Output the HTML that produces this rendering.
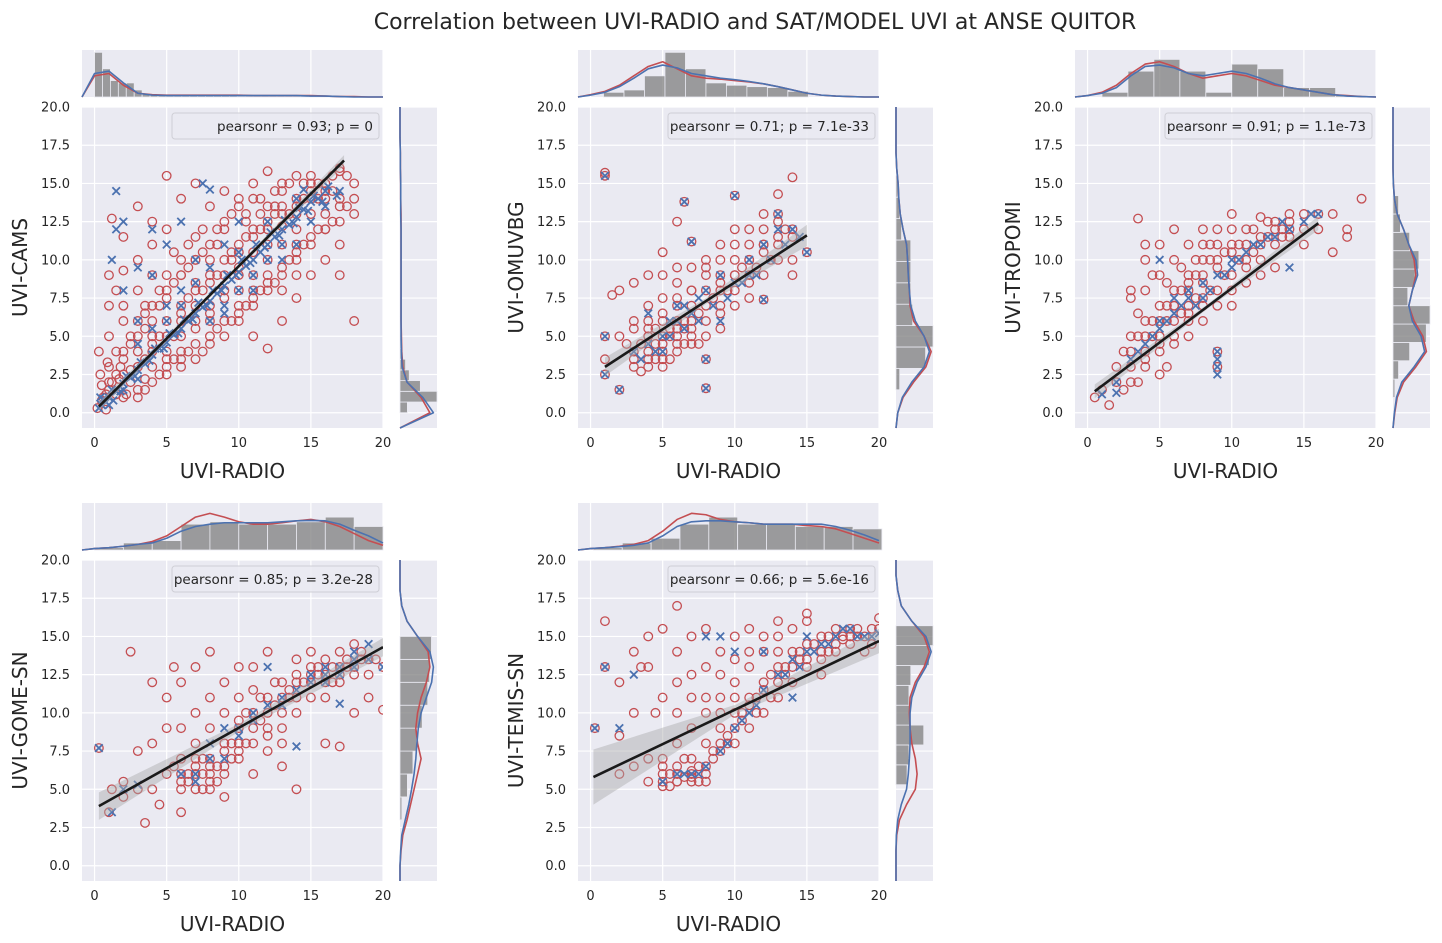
<!DOCTYPE html>
<html><head><meta charset="utf-8">
<style>
body{margin:0;background:#fff;}
svg{display:block;font-family:"DejaVu Sans","Liberation Sans",sans-serif;}
</style></head>
<body>
<svg id="c" width="1442" height="943" viewBox="0 0 1442 943">
<text x="755" y="29" text-anchor="middle" font-size="22" fill="#262626">Correlation between UVI-RADIO and SAT/MODEL UVI at ANSE QUITOR</text>
</svg>
<script>
// ---------- data ----------
const yLabels=["UVI-CAMS","UVI-OMUVBG","UVI-TROPOMI","UVI-GOME-SN","UVI-TEMIS-SN"];
const legendTexts=["pearsonr = 0.93; p = 0","pearsonr = 0.71; p = 7.1e-33","pearsonr = 0.91; p = 1.1e-73","pearsonr = 0.85; p = 3.2e-28","pearsonr = 0.66; p = 5.6e-16"];
const xTicks=[0,5,10,15,20];
const yTicks=[0,2.5,5,7.5,10,12.5,15,17.5,20];
// red circles [x,y,...]
const red1=[0.2,0.3,0.5,0.8,0.8,1.2,1,1.5,1.2,2,0.4,2.5,0.6,1,1.5,1.2,2,2.5,1.8,3,2.5,2,0.3,4,1,5,2,6,1.5,8,1,9,3,10,2,11.5,1.2,12.7,4,12.5,3,13.5,5,15.5,7,15,6,14,4,11,5,12,5,9,6,10,6,7,7,8,8,10,8,7,9,9,9,12,10,11,10,8,11,12,11,9,12,12,12,10,13,13,13,11,14,14,14,12,15,15,15,13,16,15,17,15.8,16,13,17,12.5,18,14,10,14,11,15,12,15.8,8,13.5,7,11.5,3,4,4,5,4,3,5,4,5,2.5,6,5,7,4.5,8,5,6,3,3,6,4,7,3,8,2,9.3,9,6,10,6,11,5,12,4.2,13,6,14,7.5,15,9,16,10,9,14.5,13,15,14,10,17,9,18,6,3,1.5,7,7,8,8.5,10,10.5,11,10.5,12,11,13,12.2,14,13,15,14,2,4,3,3,4,4.5,5,6,6,6,7,6,8,6,9,7.5,10,9,11,8,12,8.5,13,9.5,14,11,15,11.5,16,12,17,13.5,18,15,3.5,7,4.5,8,5.5,10.5,6.5,11,7.5,12,8.5,11,9.5,10.5,10.5,12.5,11.5,13,12.5,13.5,1,3,1.5,4,2.5,5,3.5,5.5,5,3.5,6,4,7,5.5,8,6.5,9,8,10,7,11,7,12,9,13,8,14,9,4,9,5,8,6,9,7,10,2,7,1,7,0.5,1.8,0.8,0.2,2.2,1.2,1.7,2.2,0.9,3.3,3.5,2.2];
const red1b=[1,2,1.5,2.5,2,3.5,2.5,4.5,3,5,3.5,6.5,4,6,4.5,7,5,7.5,5.5,8.5,6,9,6.5,9.5,7,10,7.5,10.5,8,11,8.5,12,9,12.5,9.5,13,10,13.5,10.5,13,11,14,11.5,14,12,13.5,12.5,14.5,13,14.5,13.5,15,14,15.5,14.5,15,15,15.5,15.5,15,16,14,16.5,14.5,17,14,17.5,13.5,18,13,3,1,3.5,1.5,4,2,4.5,2.5,5,3,5.5,3.5,6,3.5,6.5,4,7,3.5,7.5,4,8,4.5,8.5,5.5,9,5,9.5,6,10,6.5,10.5,7,11,7.5,11.5,8,12,8,12.5,8.5,13,9,13.5,10,14,10.5,14.5,11,15,11,15.5,12,16,12,16.5,12.5,17,11,2,1,2.5,2.8,3.5,3.5,4,4,4.5,5,5,5,5.5,5,6,6.5,6.5,7.5,7,8.5,7.5,8,8,9,8.5,9,9,10,9.5,10,10,9.5,10.5,11.5,11,11.5,11.5,12,12,12.5,12.5,13,13,13.5,13.5,13,14,13.5,14.5,14,15,14.5,15.5,14,16,14.5,16.5,15.5,17,16,17.5,15.5];
const blue1=[0.3,0.3,0.8,0.7,1.5,1.4,2,1.9,3,2.8,4,3.8,5,4.6,6,5.5,7,6.5,8,7.3,9,8.3,10,9.2,11,10,12,11,13,12,14,12.8,15,13.8,16,14.5,17,14.5,1.5,14.5,1.5,12,2,12.5,7.5,15,8,14.6,14.5,14.6,4,9,3,6,6,8,5,6,10,8,12,10,14,11,9,7,11,9,0.5,0.5,1,1,2.5,2.3,3.5,3.2,4.5,4.2,5.5,5.1,6.5,6,7.5,6.9,8.5,7.8,9.5,8.7,10.5,9.6,11.5,10.5,12.5,11.5,13.5,12.3,14.5,13.3,15.5,14,1,0.5,2,1.5,3,2.2,0.4,1,1.3,0.8,4,12,5,11,6,12.5,3,9.5,2,8,8,9.5,9,11,10,12.5,7,10,1.2,10,13,11,15,12.5,16,13.5];
const blue1b=[0.6,0.9,1.2,1.5,1.8,1.4,2.2,2.4,2.8,2.4,3.2,3.3,3.8,3.4,4.2,4.2,4.8,4.2,5.2,5.2,5.8,5.2,6.2,6.1,6.8,6.1,7.2,7.2,7.8,7,8.2,8,8.8,8,9.2,9,9.8,9,10.2,10,10.8,9.8,11.2,11,11.8,10.8,12.2,11.8,12.8,11.6,13.2,12.6,13.8,12.4,14.2,13.4,14.8,13.2,15.2,14.2,15.8,13.8,16.2,14.8,16.8,14.2,5,7,6,7,7,8.5,8,6,9,6.5,10,10.5,11,8,12,12.5,13,10,14,14,3,4.5,4,5.5];
const red2=[1,15.5,1,15.7,1,5,1,3.5,1,2.5,2,1.5,2,5,2,8,1.5,7.7,3,4,3,6,3,8.5,4,3,4,5,4,7,4,9,5,3,5,5,5,6,5,9,5,10.5,6,4,6,6,6,7,6,8.5,6,12.5,6.5,13.8,7,5,7,7,7,11.2,7,9.5,8,3.5,8,1.6,8,6,8,8,8,10,9,7,9,9,9,11,9,5.5,10,14.2,10,8,10,10,10,12,11,9,11,11,11,7.5,12,9,12,10.5,12,7.4,12,12,13,10,13,14.3,13,11.5,13,12.5,14,12,14,15.4,14,10,14,9,15,10.5,3,5.5,4,4,6,5,7,6,5,4.5,3.5,2.7,4.5,5.5,5.5,5.5,6.5,5.5,5,7.5,6,9.5,7,8,8,9,9,8,10,9,11,10,12,11,13,13,4,6,4.5,3.5,5.5,3.5,6.5,4.5,7.5,4.5,3,3];
const red2b=[4.5,4.5,5,4,5.5,5,6,5.5,6.5,6,7,5.5,7.5,6.5,8,7,8.5,7.5,9,8.5,9.5,8,10,9,10.5,9.5,11,10,11.5,9.5,12,11,12.5,10,13,11,13.5,12,14,11.5,3.5,4.5,4,5.5,5,6.5,6,7.5,7,8,8,9.5,9,10,10,11,11,12,12,13,4,3.5,5,3.5,6,4.5,7,4.5,8,5,9,6.5,10,7,11,8.5,3,3.5,2.5,4.5];
const blue2=[1,15.5,1,5,1,2.5,2,1.5,3,4,4,4.5,5,5,5,4,6,6,6.5,13.8,7,11.2,7,6.5,8,3.5,8,1.6,8,8,9,9,10,14.2,10,8.5,11,9,12,7.4,13,13,14,12,15,10.5,6,7,4,6.5,9,6,5.5,6,6.5,7,7.5,7.5,11,10,12,11,13,12];
const blue2b=[4.5,4,5.5,5,6.5,5.5,7.5,6,8.5,7,9.5,7.5,10.5,8.5,11.5,9,12.5,10,13.5,11,14.5,11.5,3.5,3.5];
const red3=[0.5,1,1,1.5,1.5,0.5,2,2,2,3,2.5,4,3,3,3,5,3,7.5,3.5,12.7,3,8,4,4,4,6,4,8,4,11,4,10,5,5,5,7,5,9,5,11,5,4,5.5,3,6,6,6,8,6,10,6,12,7,5,7,7,7,9,7,8,7,11,8,7,8,9,8,10,8,6,8,12,9,8,9,10,9,3,9,4,9,11,10,9,10,11,10,12,10,7,11,10,11,12,11,9.5,12,11,12,10,12,12.8,13,11,13,12,13,9.5,14,12,14,11.5,14,13,15,12,15,11,16,13,16,12,17,13,18,12,19,14,17,10.5,18,11.5,6,7,7,6,3.5,2,2.5,1.5,4.5,5,5.5,6,6.5,6.5,7.5,7.5,8.5,8,9.5,9,10.5,10,11.5,10.5,12.5,11.5,13.5,11.5,4,3,5,2.5,6,4.5,3,2,8,11,9,12,10,13];
const red3b=[3,4,3.5,5,4,5,4.5,6,5,6,5.5,7,6,7,6.5,8,7,8.5,7.5,9,8,8.5,8.5,10,9,9.5,9.5,10.5,10,10.5,10.5,11,11,11,11.5,12,12,11.5,12.5,12.5,13,12.5,13.5,12,14,12.5,15,13,4,3.5,5,4.5,6,5,7,6.5,8,7.5,9,7,10,8,11,8.5,12,9,5.5,8.5,6.5,9.5,7.5,10,8.5,11,4.5,9,3.5,6.5];
const blue3=[1,1.2,2,2,3,3.5,4,4.5,5,5.5,5,6,6,6.5,6,7.5,7,7.5,7,8,8,7.5,8,8.5,9,9,9,3,9,4,10,9.5,10,10,11,10.5,12,11,13,11.5,14,12,14,9.5,15,12.5,16,13,2,1.3,5,10,9,3.5,9,2.5];
const blue3b=[3.5,4,4.5,5,5.5,6,6.5,7,7.5,7,8.5,8,9.5,9,10.5,10,11.5,11,12.5,11.5,13.5,12.5,15.5,13];
const red4=[0.3,7.7,1,3.5,1.2,5,2,4.5,2,5.5,2.5,14,3,7.5,3,5,3.5,2.8,4,12,4,8,4,5,4.5,4,5,6,5,9,5,11,5.5,13,6,5,6,7,6,9,6,12,6,3.5,7,6,7,8,7,10,7,13,7.5,5,8,6,8,7,8,9,8,11,8,14,9,6,9,7.5,9,10,9,12,9,4.5,10,7,10,8,10,11,10,9,11,8,11,10,11,13,11,6,12,9,12,11,12,14,12,7.5,13,10,13,12,13,9,14,11,14,12.5,14,10,14,5,15,12,15,13,15,11,16,12.5,16,13.5,16,11,17,13,17,14,17,12,18,13,18,14.5,18,10,19,13.5,19,11,20,13,20,10.2,16,8,17,7.8,13,6.5,15,14,10,13,7,6.5,8,5.5,6.5,6,7.5,7,8.5,6.5,9.5,8,15.5,12.5,16.5,12,17.5,13,18.5,13.5,13.5,11,12.5,12,11.5,11,10.5,10];
const red4b=[6,6,6.5,5.5,7,7,7.5,6,8,6.5,8.5,5.5,9,6.5,9.5,7,10,7.5,10.5,8,11,9,11.5,9.5,12,10,12.5,10.5,13,11,13.5,11.5,14,12,14.5,12,15,12.5,15.5,13,16,12,16.5,13,17,12.5,17.5,13.5,18,12.5,18.5,14,19,12.5,19.5,13.5,7,5,8,5,6,5.5,5.5,6.5,9,8,10,9.5,12,8.5,13,8,11,11.5,14,13.5];
const blue4=[0.3,7.7,1.2,3.5,2,5,3,5.3,6,6,7,5.5,8,7,8,8,9,9,10,8.5,11,10,12,10.5,13,11,14,11.5,14,7.8,15,12,16,12.5,16,13,17,13,18,14,18,13.5,19,14.5,20,13,12,13,17,10.6];
const blue4b=[7,6,9,7,10,9,11,9.5,13,10.5,15,12.5,16,12,17,12.5,18,13,19,13.5];
const red5=[0.3,9,1,16,1,13,2,6,2,8.5,2,12,3,6.5,3,10,3,14,4,5.5,4,7,4,13,4,15,5,5.5,5,6,5,7,5,11,5,15.5,6,5.5,6,6.5,6,8,6,12,6,17,6,14,7,5.5,7,6,7,7,7,9,7,11,7,15,8,6,8,8,8,10,8,13,8,15.5,9,7.5,9,9,9,11,9,14,10,8,10,10,10,12,10,15,11,9,11,11,11,13,11,15.5,12,10,12,12,12,14,13,11,13,13,13,15,13,16,14,12,14,14,14,15.5,15,13,15,14.5,15,16,16,13.5,16,15,16,12.5,17,14,17,15.5,18,14.5,18,15.5,19,15,20,15.5,20,16.2,15,16.5,3.5,13,4.5,10,7,5.8,8,5.5,6,6,5,6.5,6.5,7,7.5,6.5,5.5,5.2,8.5,7,9.5,8.5,10.5,9.5,11.5,10,12.5,11,13.5,12.5,14.5,13.5,16.5,14,17.5,14.8,18.5,15,19.5,14.5];
const red5b=[5,5.2,5.5,6,6,5.5,6.5,5.8,7,6.2,7.5,5.5,8,6.5,8.5,7.5,9,8,9.5,8,10,9,10.5,10,11,10.5,11.5,11,12,11.5,12.5,12.5,13,12,13.5,13,14,13,14.5,14,15,13.5,15.5,14.5,16,14,16.5,15,17,14.5,17.5,15,18,15,18.5,15.5,19,14,19.5,15.5,6,10,7,12.5,8,11,9,12.5,10,13.5,11,14,12,15,13,14,9,10,10,11];
const blue5=[0.3,9,1,13,2,9,3,12.5,5,5.5,6,6,7,6,8,6.5,8,15,9,7.5,9,15,10,9,11,10,12,11.5,13,12.5,14,13.5,15,14,15,15,16,14.5,17,15,18,15.5,19,15,20,15.2,12,14,14,11,10,14];
const blue5b=[6.5,6,7.5,6,9.5,8,10.5,9.5,11.5,10.5,13.5,12.5,14.5,13,15.5,14,16.5,14.5,17.5,15.5,18.5,15,19.5,15];
// regression lines [x0,y0,x1,y1,ciHalf0,ciHalfMid,ciHalf1]
const regs=[[0.3,0.4,17.3,16.5,0.3,0.1,0.35],[1,3,15,11.6,0.6,0.2,0.7],[0.5,1.4,16,12.4,0.45,0.15,0.45],[0.3,3.9,20,14.3,0.9,0.25,0.6],[0.2,5.8,20,14.7,1.8,0.3,0.8]];
// top marginal histograms: start, bin width, heights (fraction of box)
const hStart=[0,0.9,1,0,0.2];
const hWidth=[0.55,1.42,1.8,2,2];
const hTop1=[0.95,0.6,0.35,0.3,0.3,0.15,0.06,0.04,0.04,0.04,0.03,0.03,0.03,0.03,0.03,0.03,0.03,0.03,0.02,0.02,0.02,0.02,0.02,0.02,0.02,0.02,0.02,0.02,0.01,0.01,0.01,0.01];
const hTop2=[0.1,0.15,0.45,0.95,0.6,0.3,0.25,0.22,0.2,0.12];
const hTop3=[0.1,0.55,0.8,0.55,0.1,0.7,0.6,0.2,0.2,0.03];
const hTop4=[0.05,0.15,0.2,0.55,0.6,0.55,0.55,0.6,0.7,0.5];
const hTop5=[0.05,0.15,0.25,0.55,0.7,0.55,0.55,0.5,0.5,0.45];
// right marginal histograms (y bins): start, width, widths (fraction)
const vStart=[0,1.5,1,3,5.3];
const vWidth=[0.7,1.4,1.2,1.5,1.3];
const vRight1=[0.2,1.0,0.55,0.25,0.15,0.04,0.03,0.02,0.02,0.02,0.02,0.02,0.02,0.02,0.02,0.02,0.01,0.01,0.01,0.01,0.01,0.01];
const vRight2=[0.1,0.8,1.0,0.45,0.4,0.4,0.4,0.15,0.1,0.05];
const vRight3=[0.05,0.15,0.45,0.9,1.0,0.4,0.6,0.7,0.45,0.2,0.15];
const vRight4=[0.05,0.2,0.35,0.45,0.6,0.75,0.8,0.85];
const vRight5=[0.3,0.35,0.75,0.4,0.35,0.4,0.9,1.0];
// KDE (value grid 0..20 step 1), fraction of box
const kTopR1=[0.45,0.5,0.25,0.08,0.05,0.04,0.04,0.04,0.04,0.04,0.04,0.03,0.03,0.03,0.03,0.03,0.02,0.01,0.01,0,0];
const kTopB1=[0.5,0.55,0.3,0.08,0.04,0.03,0.03,0.03,0.03,0.03,0.03,0.03,0.03,0.03,0.03,0.02,0.02,0.01,0,0,0];
const kTopR2=[0.05,0.12,0.25,0.45,0.65,0.75,0.6,0.45,0.4,0.38,0.35,0.32,0.28,0.22,0.15,0.08,0.04,0.02,0.01,0,0];
const kTopB2=[0.04,0.1,0.22,0.4,0.6,0.68,0.62,0.5,0.45,0.4,0.37,0.33,0.28,0.22,0.15,0.08,0.04,0.02,0.01,0,0];
const kTopR3=[0.03,0.1,0.25,0.5,0.7,0.75,0.65,0.5,0.4,0.45,0.5,0.45,0.35,0.25,0.2,0.15,0.1,0.05,0.03,0.01,0];
const kTopB3=[0.03,0.08,0.2,0.45,0.65,0.68,0.62,0.5,0.45,0.5,0.55,0.5,0.4,0.28,0.2,0.15,0.1,0.05,0.02,0.01,0];
const kTopR4=[0.03,0.05,0.08,0.12,0.18,0.3,0.5,0.7,0.78,0.7,0.6,0.55,0.55,0.58,0.62,0.65,0.6,0.5,0.35,0.2,0.1];
const kTopB4=[0.03,0.05,0.08,0.12,0.15,0.25,0.4,0.5,0.55,0.58,0.58,0.58,0.58,0.6,0.62,0.63,0.62,0.55,0.42,0.3,0.15];
const kTopR5=[0.03,0.05,0.08,0.12,0.2,0.4,0.65,0.78,0.75,0.65,0.6,0.58,0.55,0.55,0.55,0.52,0.5,0.45,0.35,0.25,0.15];
const kTopB5=[0.03,0.05,0.07,0.1,0.15,0.3,0.5,0.6,0.62,0.62,0.6,0.58,0.55,0.55,0.55,0.55,0.55,0.5,0.42,0.32,0.2];
const kRightR1=[0.85,0.6,0.2,0.08,0.05,0.04,0.03,0.03,0.03,0.03,0.03,0.03,0.03,0.03,0.02,0.02,0.01,0.01,0,0,0];
const kRightB1=[0.95,0.65,0.2,0.06,0.04,0.03,0.03,0.03,0.03,0.03,0.03,0.03,0.03,0.02,0.02,0.02,0.01,0.01,0,0,0];
const kRightR2=[0.05,0.2,0.5,0.85,1.0,0.8,0.5,0.4,0.38,0.35,0.33,0.3,0.2,0.12,0.08,0.06,0.02,0,0,0,0];
const kRightB2=[0.05,0.18,0.45,0.8,0.95,0.8,0.55,0.42,0.38,0.35,0.33,0.3,0.2,0.12,0.08,0.06,0.02,0,0,0,0];
const kRightR3=[0.05,0.12,0.3,0.65,0.95,0.85,0.6,0.45,0.55,0.65,0.6,0.45,0.3,0.12,0.04,0.01,0,0,0,0,0];
const kRightB3=[0.04,0.1,0.25,0.6,0.9,0.8,0.55,0.45,0.55,0.7,0.65,0.45,0.3,0.12,0.04,0.01,0,0,0,0,0];
const kRightR4=[0,0.03,0.08,0.2,0.3,0.4,0.5,0.6,0.5,0.45,0.5,0.6,0.75,0.85,0.8,0.5,0.2,0.05,0,0,0];
const kRightB4=[0,0.02,0.05,0.15,0.25,0.33,0.4,0.45,0.48,0.52,0.6,0.75,0.9,0.95,0.85,0.5,0.2,0.05,0,0,0];
const kRightR5=[0,0,0.02,0.1,0.3,0.55,0.6,0.55,0.45,0.4,0.38,0.4,0.55,0.8,0.95,0.8,0.45,0.15,0.05,0,0];
const kRightB5=[0,0,0.01,0.05,0.15,0.3,0.35,0.38,0.4,0.4,0.4,0.45,0.6,0.85,1.0,0.85,0.45,0.15,0.05,0,0];

const reds=[red1.concat(red1b),red2.concat(red2b),red3.concat(red3b),red4.concat(red4b),red5.concat(red5b)];
const blues=[blue1.concat(blue1b),blue2.concat(blue2b),blue3.concat(blue3b),blue4.concat(blue4b),blue5.concat(blue5b)];
const hTops=[hTop1,hTop2,hTop3,hTop4,hTop5], vRights=[vRight1,vRight2,vRight3,vRight4,vRight5];
const kTR=[kTopR1,kTopR2,kTopR3,kTopR4,kTopR5], kTB=[kTopB1,kTopB2,kTopB3,kTopB4,kTopB5];
const kRR=[kRightR1,kRightR2,kRightR3,kRightR4,kRightR5], kRB=[kRightB1,kRightB2,kRightB3,kRightB4,kRightB5];

// ---------- drawing ----------
const NS="http://www.w3.org/2000/svg";
const svg=document.getElementById('c');
function mk(tag,attrs,parent){const e=document.createElementNS(NS,tag);for(const k in attrs)e.setAttribute(k,attrs[k]);(parent||svg).appendChild(e);return e;}
const layout=[[82,107],[578,107],[1075,107],[82,560],[578,560]];
const AW=301, AH=321, XMIN=-0.87, XMAX=20, YMIN=-1, YMAX=20;
const RED="#C44E52", BLUE="#4C72B0", BG="#EAEAF2";

layout.forEach((pos,i)=>{
  const L=pos[0],T=pos[1];
  const sx=v=>L+(v-XMIN)/(XMAX-XMIN)*AW;
  const sy=v=>T+AH-(v-YMIN)/(YMAX-YMIN)*AH;
  const g=mk('g',{});
  
  
  const bg=mk('rect',{x:L,y:T,width:AW,height:AH,fill:BG},g);
  
  
  xTicks.forEach(t=>{
    const ln=mk('line',{x1:sx(t),x2:sx(t),y1:T,y2:T+AH,stroke:'#fff','stroke-width':1.2},g);
    
    
    const tx=mk('text',{x:sx(t),y:T+AH+19,'text-anchor':'middle','font-size':13,fill:'#262626'},g);
    tx.textContent=String(t);
    
    
  });
  yTicks.forEach(t=>{
    const ln=mk('line',{x1:L,x2:L+AW,y1:sy(t),y2:sy(t),stroke:'#fff','stroke-width':1.2},g);
    
    
    const tx=mk('text',{x:L-12,y:sy(t)+4.5,'text-anchor':'end','font-size':13,fill:'#262626'},g);
    tx.textContent=t.toFixed(1);
    
    
  });
  const xl=mk('text',{x:L+AW/2,y:T+AH+50,'text-anchor':'middle','font-size':20,fill:'#262626'},g);
  xl.textContent='UVI-RADIO';
  
  
  const yl=mk('text',{x:0,y:0,'text-anchor':'middle','font-size':20,fill:'#262626',transform:`translate(${L-55},${T+AH/2}) rotate(-90)`},g);
  yl.textContent=yLabels[i];
  
  
  const cp=mk('clipPath',{id:'clip'+i},g);
  mk('rect',{x:L,y:T,width:AW,height:AH},cp);
  const pts=mk('g',{'clip-path':`url(#clip${i})`},g);
  const R=reds[i];
  for(let k=0;k<R.length;k+=2){
    const c=mk('circle',{cx:sx(R[k]),cy:sy(R[k+1]),r:4.3,fill:'none',stroke:RED,'stroke-width':1.3},pts);
    
    
  }
  const B=blues[i];
  for(let k=0;k<B.length;k+=2){
    const x=sx(B[k]),y=sy(B[k+1]),s=3.8;
    const p=mk('path',{d:`M${x-s},${y-s}L${x+s},${y+s}M${x-s},${y+s}L${x+s},${y-s}`,stroke:BLUE,'stroke-width':1.8,fill:'none'},pts);
    
    
  }
  const r=regs[i];
  const xm=(r[0]+r[2])/2, ym=(r[1]+r[3])/2;
  const band=mk('path',{d:`M${sx(r[0])},${sy(r[1]+r[4])}L${sx(xm)},${sy(ym+r[5])}L${sx(r[2])},${sy(r[3]+r[6])}L${sx(r[2])},${sy(r[3]-r[6])}L${sx(xm)},${sy(ym-r[5])}L${sx(r[0])},${sy(r[1]-r[4])}Z`,fill:'#aaaaaa','fill-opacity':0.45},pts);
  
  
  const rl=mk('line',{x1:sx(r[0]),y1:sy(r[1]),x2:sx(r[2]),y2:sy(r[3]),stroke:'#1a1a1a','stroke-width':2.6},pts);
  
  
  const lg=mk('rect',{x:L+90,y:T+6,width:207,height:26,rx:3,fill:BG,'fill-opacity':0.85,stroke:'#cfcfd6','stroke-width':1},g);
  
  
  const lt=mk('text',{x:L+291,y:T+24,'text-anchor':'end','font-size':13.5,fill:'#262626'},g);
  lt.textContent=legendTexts[i];
  
  

  const MT=T-57, MH=47;
  const tb=mk('rect',{x:L,y:MT,width:AW,height:MH,fill:BG},g);
  
  
  xTicks.forEach(t=>{mk('line',{x1:sx(t),x2:sx(t),y1:MT,y2:MT+MH,stroke:'#fff','stroke-width':1.2},g);});
  const ht=hTops[i];
  ht.forEach((h,k)=>{
    const x0=sx(hStart[i]+k*hWidth[i]), x1=sx(hStart[i]+(k+1)*hWidth[i]);
    const b=mk('rect',{x:x0,y:MT+MH-h*MH,width:x1-x0,height:h*MH,fill:'#7f7f7f','fill-opacity':0.75,stroke:BG,'stroke-width':0.8},g);
    
    
  });
  [[kTR[i],RED],[kTB[i],BLUE]].forEach(([arr,col])=>{
    const d=arr.map((v,k)=>'L'+sx(k)+','+(MT+MH-v*MH)).join('');
    const p=mk('path',{d:'M'+L+','+(MT+MH)+d,fill:'none',stroke:col,'stroke-width':1.6,'stroke-linejoin':'round'},g);
    
    
  });
  const RL=L+318, RW=37;
  const rb=mk('rect',{x:RL,y:T,width:RW,height:AH,fill:BG},g);
  
  
  yTicks.forEach(t=>{mk('line',{x1:RL,x2:RL+RW,y1:sy(t),y2:sy(t),stroke:'#fff','stroke-width':1.2},g);});
  vRights[i].forEach((w,k)=>{
    const y0=sy(vStart[i]+(k+1)*vWidth[i]), y1=sy(vStart[i]+k*vWidth[i]);
    const b=mk('rect',{x:RL,y:y0,width:w*RW,height:y1-y0,fill:'#7f7f7f','fill-opacity':0.75,stroke:BG,'stroke-width':0.8},g);
    
    
  });
  [[kRR[i],RED],[kRB[i],BLUE]].forEach(([arr,col])=>{
    const d=arr.map((v,k)=>'L'+(RL+v*RW*0.95)+','+sy(k)).join('');
    const p=mk('path',{d:'M'+RL+','+(T+AH)+d,fill:'none',stroke:col,'stroke-width':1.6,'stroke-linejoin':'round'},g);
    
    
  });
});
</script>
</body></html>
